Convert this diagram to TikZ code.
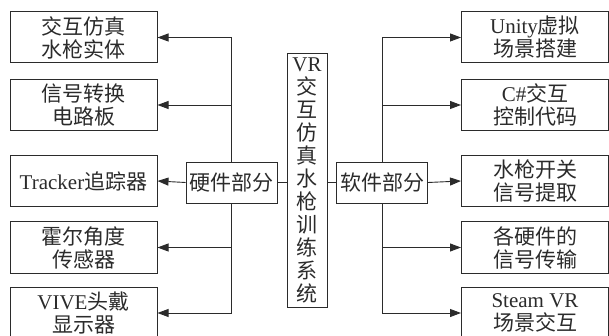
\documentclass[tikz,border=0pt]{standalone}
\usepackage{fontspec}
\setmainfont{Liberation Serif}
\newfontfamily\cjk{Noto Sans CJK SC}
\usetikzlibrary{arrows.meta}
\definecolor{ink}{HTML}{2B2B2B}
\tikzset{
  box/.style={draw=ink, line width=1pt, minimum width=147pt, minimum height=51pt, align=center, inner sep=0pt, font=\fontsize{21}{23}\selectfont, text=ink},
  part/.style={draw=ink, line width=0.9pt, minimum width=91pt, minimum height=41pt, inner sep=0pt, font=\fontsize{21}{23}\selectfont, text=ink},
  conn/.style={draw=ink, line width=0.9pt},
  arr/.style={conn, -{Triangle[length=11pt,width=8pt]}}
}
\begin{document}
\begin{tikzpicture}[x=1pt,y=-1pt]
\useasboundingbox (0,0) rectangle (609,336);
\clip (0,0) rectangle (609,336);
% left boxes
\node[box] (l1) at (83.5,37.5) {{\cjk 交互仿真}\\{\cjk 水枪实体}};
\node[box] (l2) at (83.5,105) {{\cjk 信号转换}\\{\cjk 电路板}};
\node[box] (l3) at (83.5,181) {Tracker{\cjk 追踪器}};
\node[box] (l4) at (83.5,247.5) {{\cjk 霍尔角度}\\{\cjk 传感器}};
\node[box] (l5) at (83.5,313) {VIVE{\cjk 头戴}\\{\cjk 显示器}};
% right boxes
\node[box] (r1) at (535,37.5) {Unity{\cjk 虚拟}\\{\cjk 场景搭建}};
\node[box] (r2) at (535,105) {C\#{\cjk 交互}\\{\cjk 控制代码}};
\node[box] (r3) at (535,181) {{\cjk 水枪开关}\\{\cjk 信号提取}};
\node[box] (r4) at (535,247.5) {{\cjk 各硬件的}\\{\cjk 信号传输}};
\node[box] (r5) at (535,313) {Steam VR\\{\cjk 场景交互}};
% center
\node[draw=ink, line width=0.9pt, minimum width=40pt, minimum height=254pt, inner sep=0pt, align=center, text=ink, font=\fontsize{21}{23}\selectfont] (vr) at (307,180) {VR\\{\cjk 交}\\{\cjk 互}\\{\cjk 仿}\\{\cjk 真}\\{\cjk 水}\\{\cjk 枪}\\{\cjk 训}\\{\cjk 练}\\{\cjk 系}\\{\cjk 统}};
\node[part] (hw) at (231.5,182.5) {\cjk 硬件部分};
\node[part] (sw) at (382,182.5) {\cjk 软件部分};
% connectors
\draw[conn] (hw.east) -- (hw.east -| vr.west);
\draw[conn] (sw.west -| vr.east) -- (sw.west);
\draw[arr] (hw.west) -- (l3.east);
\draw[arr] (hw.north) |- (l1.east);
\draw[arr] (hw.north) |- (l2.east);
\draw[arr] (hw.south) |- (l4.east);
\draw[arr] (hw.south) |- (l5.east);
\draw[arr] (sw.east) -- (r3.west);
\draw[arr] (sw.north) |- (r1.west);
\draw[arr] (sw.north) |- (r2.west);
\draw[arr] (sw.south) |- (r4.west);
\draw[arr] (sw.south) |- (r5.west);
\end{tikzpicture}
\end{document}
